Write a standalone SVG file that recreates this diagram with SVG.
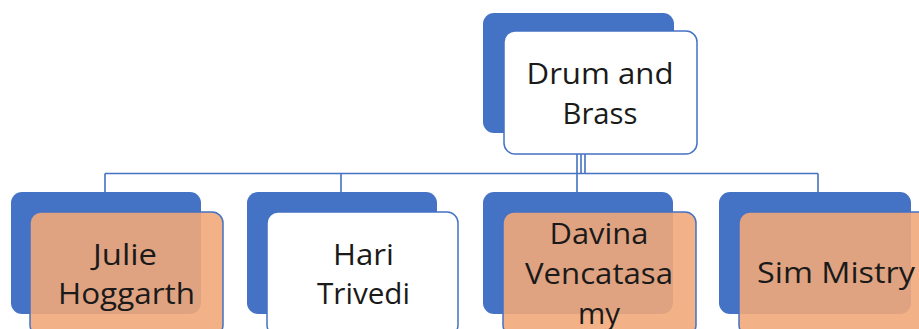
<svg xmlns="http://www.w3.org/2000/svg" width="919" height="329" viewBox="0 0 919 329">
  <style>
    .back { fill: #4472C4; }
    .front { stroke: #4472C4; stroke-width: 1.5; }
    .white { fill: #FFFFFF; }
    .orange { fill: #F2A97A; fill-opacity: 0.9; }
    .conn { fill: none; stroke: #4472C4; stroke-width: 1.6; }
    .label { font-family: "Open Sans", "Liberation Sans", sans-serif; font-size: 30px; fill: #1A1A1A; text-anchor: middle; }
  </style>
  <rect width="919" height="329" fill="#FFFFFF"/>

  <!-- connectors -->
  <g id="connectors">
    <path class="conn" d="M105 173.5 H818"/>
    <path class="conn" d="M577 154 V173.5 M581 154 V173.5 M585 154 V173.5"/>
    <path class="conn" d="M105 173.5 V192 M341 173.5 V192 M577 173.5 V192 M818 173.5 V192"/>
  </g>

  <g id="node-drum-and-brass">
    <rect class="back" x="483" y="13" width="191" height="120" rx="11"/>
    <rect class="front white" x="504" y="31" width="193" height="123" rx="11"/>
    <text class="label" x="600" y="84" textLength="147" lengthAdjust="spacingAndGlyphs">Drum and</text>
    <text class="label" x="600" y="124" textLength="75" lengthAdjust="spacingAndGlyphs">Brass</text>
  </g>

  <g id="node-julie-hoggarth">
    <rect class="back" x="11" y="192" width="190" height="122" rx="11"/>
    <rect class="front orange" x="30" y="212" width="193" height="124" rx="11"/>
    <text class="label" x="125" y="265" textLength="64" lengthAdjust="spacingAndGlyphs">Julie</text>
    <text class="label" x="126.5" y="304" textLength="137" lengthAdjust="spacingAndGlyphs">Hoggarth</text>
  </g>

  <g id="node-hari-trivedi">
    <rect class="back" x="247" y="192" width="190" height="122" rx="11"/>
    <rect class="front white" x="267" y="212" width="191" height="124" rx="11"/>
    <text class="label" x="363.5" y="265" textLength="61" lengthAdjust="spacingAndGlyphs">Hari</text>
    <text class="label" x="363.5" y="304" textLength="93" lengthAdjust="spacingAndGlyphs">Trivedi</text>
  </g>

  <g id="node-davina-vencatasamy">
    <rect class="back" x="483" y="192" width="190" height="122" rx="11"/>
    <rect class="front orange" x="503" y="212" width="193" height="124" rx="11"/>
    <text class="label" x="599" y="244" textLength="99" lengthAdjust="spacingAndGlyphs">Davina</text>
    <text class="label" x="599" y="284" textLength="148" lengthAdjust="spacingAndGlyphs">Vencatasa</text>
    <text class="label" x="599" y="324" textLength="42" lengthAdjust="spacingAndGlyphs">my</text>
  </g>

  <g id="node-sim-mistry">
    <rect class="back" x="719" y="192" width="192" height="122" rx="11"/>
    <rect class="front orange" x="739" y="212" width="193" height="124" rx="11"/>
    <text class="label" x="836" y="283" textLength="158" lengthAdjust="spacingAndGlyphs">Sim Mistry</text>
  </g>
</svg>
